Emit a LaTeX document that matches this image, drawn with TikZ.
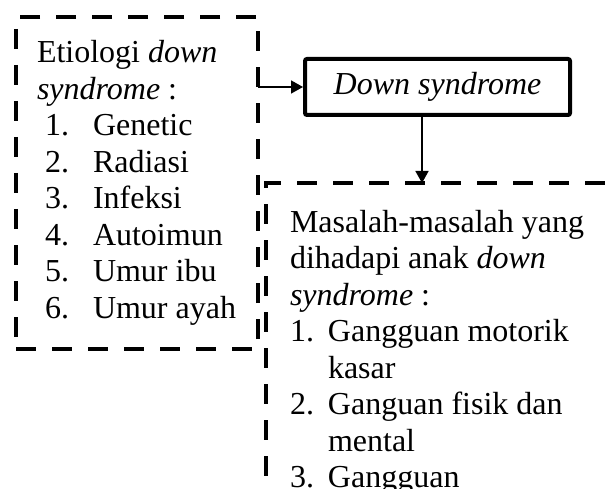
\documentclass[tikz,border=0pt]{standalone}
\usepackage{fontspec}
\setmainfont{Liberation Serif}
\usetikzlibrary{arrows.meta,positioning}
\tikzset{
  dashbox/.style={draw, line width=4.5pt, dash pattern=on 20pt off 16pt,
    outer sep=0pt, align=flush left, font=\fontsize{32}{36.5}\selectfont},
  mainbox/.style={draw, line width=4pt, rounded corners=2pt,
    font=\fontsize{32}{36.5}\selectfont\itshape},
}
\newcommand{\etitem}[2]{\mbox{\hspace*{8pt}\makebox[48pt][l]{#1}#2}}
\newcommand{\msitem}[2]{\mbox{\makebox[38pt][l]{#1}#2}}
\newcommand{\msgap}{\hspace*{38pt}}

\begin{document}
\begin{tikzpicture}[x=1pt,y=-1pt,>={Triangle[length=12pt,width=13pt]}]
\useasboundingbox (0,0) rectangle (613,489);
% Define the boxes
\node[dashbox, minimum width=242pt, minimum height=332pt, text width=200pt] (etio) at (137,183)
  {Etiologi \textit{down}\\ \textit{syndrome} :\\ \etitem{1.}{Genetic}\\ \etitem{2.}{Radiasi}\\
   \etitem{3.}{Infeksi}\\ \etitem{4.}{Autoimun}\\ \etitem{5.}{Umur ibu}\\ \etitem{6.}{Umur ayah}\par\vspace*{6pt}};
\node[mainbox, minimum width=265pt, minimum height=56pt] (down) at (437.5,87) {Down syndrome};
\node[dashbox, anchor=north west, text width=330pt, inner xsep=24pt, inner ysep=27pt] (masalah) at (266,183)
  {Masalah-masalah yang\\ dihadapi anak \textit{down}\\ \textit{syndrome} :\\
   \msitem{1.}{Gangguan motorik}\\ \msgap kasar\\ \msitem{2.}{Ganguan fisik dan}\\
   \msgap mental\\ \msitem{3.}{Gangguan}};

% Draw the arrows
\draw[->, line width=1.6pt] (etio.east |- down.west) -- (down.west);
\draw[->, line width=1.6pt] ([xshift=-15.5pt]down.south) -- ([xshift=-15.5pt]down.south |- masalah.north);
\end{tikzpicture}
\end{document}
